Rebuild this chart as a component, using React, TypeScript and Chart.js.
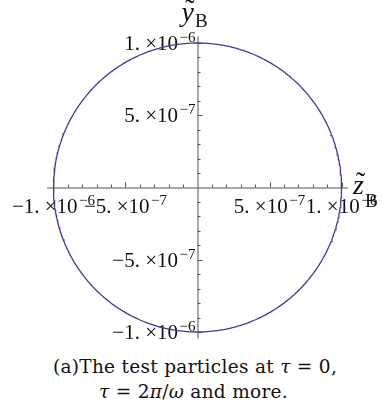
import React, { useEffect, useRef } from "react";
import { Chart, registerables } from "chart.js";

Chart.register(...registerables);

// Orbit of the test particles in the (z̃_B, ỹ_B) plane
const ORBIT_RADIUS = 1e-6;
const ORBIT_SAMPLES = 360;
const AXIS_LIMIT = 1.045e-6;

// Labelled ticks, shown as mantissa × 10^exponent
const MAJOR_TICKS = [-1e-6, -5e-7, 5e-7, 1e-6];
const TICK_MANTISSAS = ["\u22121.", "\u22125.", "5.", "1."];
const TICK_EXPONENTS = ["\u22126", "\u22127", "\u22127", "\u22126"];
const MINOR_STEP = 1e-7;

const CAPTION_LINES = [
  ["(a)The test particles at ", "τ", " = 0,"],
  ["", "τ", " = 2", "π", "/", "ω", " and more."],
];

const AXIS_COLOR = "#555555";
const CURVE_COLOR = "#3d3d99";
const SERIF = "'Liberation Serif', 'Times New Roman', serif";
const CAPTION_FONT = "'DejaVu Serif', serif";
const LABEL_SIZE = 21;
const SUP_SIZE = 15;

function orbitPoints() {
  const pts: { x: number; y: number }[] = [];
  for (let i = 0; i <= ORBIT_SAMPLES; i++) {
    const t = (2 * Math.PI * i) / ORBIT_SAMPLES;
    pts.push({ x: ORBIT_RADIUS * Math.cos(t), y: ORBIT_RADIUS * Math.sin(t) });
  }
  return pts;
}

const MANT_SUFFIX = " ×10";

function sciWidth(ctx: CanvasRenderingContext2D, mant: string, exp: string) {
  ctx.font = `${LABEL_SIZE}px ${SERIF}`;
  const w1 = ctx.measureText(mant + MANT_SUFFIX).width + 1.5;
  ctx.font = `${SUP_SIZE}px ${SERIF}`;
  const w2 = ctx.measureText(exp).width;
  return { w1, w2 };
}

function drawSci(
  ctx: CanvasRenderingContext2D,
  mant: string,
  exp: string,
  x: number,
  baseline: number,
  align: "center" | "right"
) {
  const { w1, w2 } = sciWidth(ctx, mant, exp);
  const total = w1 + w2;
  const start = align === "center" ? x - total / 2 : x - total;
  ctx.textAlign = "left";
  ctx.textBaseline = "alphabetic";
  ctx.fillStyle = "#111";
  ctx.font = `${LABEL_SIZE}px ${SERIF}`;
  ctx.fillText(mant + MANT_SUFFIX, start, baseline);
  ctx.font = `${SUP_SIZE}px ${SERIF}`;
  ctx.fillText(exp, start + w1, baseline - 8);
}

function drawTildeLetter(
  ctx: CanvasRenderingContext2D,
  letter: string,
  sub: string,
  x: number,
  baseline: number,
  size: number,
  subSize: number,
  subDrop: number
) {
  ctx.textAlign = "left";
  ctx.textBaseline = "alphabetic";
  ctx.fillStyle = "#111";
  ctx.font = `italic ${size}px ${SERIF}`;
  ctx.fillText(letter, x, baseline);
  const lw = ctx.measureText(letter).width;
  ctx.font = `${size}px ${SERIF}`;
  const tw = ctx.measureText("\u02dc").width;
  ctx.fillText("\u02dc", x + lw / 2 - tw / 2 + size * 0.08, baseline - size * 0.1);
  ctx.font = `${subSize}px ${SERIF}`;
  ctx.fillText(sub, x + lw + 1, baseline + subDrop);
}

const axesPlugin = {
  id: "crossedAxes",
  beforeDatasetsDraw(chart: Chart) {
    const { ctx } = chart;
    const xs = chart.scales.x;
    const ys = chart.scales.y;
    const x0 = xs.getPixelForValue(0);
    const y0 = ys.getPixelForValue(0);
    ctx.save();
    ctx.strokeStyle = AXIS_COLOR;
    ctx.lineWidth = 1;

    // axis lines
    ctx.beginPath();
    ctx.moveTo(xs.getPixelForValue(-AXIS_LIMIT), y0 + 0.5);
    ctx.lineTo(xs.getPixelForValue(AXIS_LIMIT), y0 + 0.5);
    ctx.moveTo(x0 + 0.5, ys.getPixelForValue(AXIS_LIMIT));
    ctx.lineTo(x0 + 0.5, ys.getPixelForValue(-AXIS_LIMIT));
    ctx.stroke();

    // tick marks: y ticks point right, x ticks point up
    ctx.beginPath();
    for (let k = -10; k <= 10; k++) {
      if (k === 0) continue;
      const v = k * MINOR_STEP;
      const len = k % 5 === 0 ? 5 : 3;
      const px = Math.round(xs.getPixelForValue(v)) + 0.5;
      ctx.moveTo(px, y0);
      ctx.lineTo(px, y0 - len);
      const py = Math.round(ys.getPixelForValue(v)) + 0.5;
      ctx.moveTo(x0, py);
      ctx.lineTo(x0 + len, py);
    }
    ctx.stroke();

    // tick labels
    MAJOR_TICKS.forEach((v, i) => {
      drawSci(ctx, TICK_MANTISSAS[i], TICK_EXPONENTS[i], xs.getPixelForValue(v), y0 + 25, "center");
      drawSci(ctx, TICK_MANTISSAS[i], TICK_EXPONENTS[i], x0 - 2, ys.getPixelForValue(v) + 7, "right");
    });

    // axis titles
    drawTildeLetter(ctx, "y", "B", x0 - 16, ys.getPixelForValue(AXIS_LIMIT) - 16, 28, 19, 6);
    drawTildeLetter(ctx, "z", "B", xs.getPixelForValue(AXIS_LIMIT) + 5, y0 + 6, 28, 19, 13);
    ctx.restore();
  },
};

export default function App() {
  const canvasRef = useRef<HTMLCanvasElement | null>(null);

  useEffect(() => {
    const canvas = canvasRef.current;
    if (!canvas) return;
    const chart = new Chart(canvas, {
      type: "scatter",
      data: {
        datasets: [
          {
            data: orbitPoints(),
            showLine: true,
            borderColor: CURVE_COLOR,
            borderWidth: 1.3,
            pointRadius: 0,
            tension: 0,
          },
        ],
      },
      options: {
        responsive: false,
        animation: false,
        events: [],
        layout: { padding: { left: 47, right: 39, top: 36.5, bottom: 11.5 } },
        plugins: { legend: { display: false }, tooltip: { enabled: false } },
        scales: {
          x: { type: "linear", min: -AXIS_LIMIT, max: AXIS_LIMIT, display: false },
          y: { type: "linear", min: -AXIS_LIMIT, max: AXIS_LIMIT, display: false },
        },
      },
      plugins: [axesPlugin],
    });
    return () => chart.destroy();
  }, []);

  const mathStyle: React.CSSProperties = { fontStyle: "italic" };

  return (
    <div style={{ position: "absolute", left: 0, top: 0, width: 387, height: 413, background: "#fff" }}>
      <canvas ref={canvasRef} width={387} height={350} style={{ display: "block", width: 387, height: 350 }} />
      <div
        style={{
          position: "absolute",
          left: 0,
          top: 354,
          width: 387,
          textAlign: "center",
          fontFamily: CAPTION_FONT,
          fontSize: 18.5,
          letterSpacing: "0.3px",
          lineHeight: "25px",
          color: "#111",
        }}
      >
        {CAPTION_LINES.map((parts, li) => (
          <div key={li} style={{ paddingLeft: li === 0 ? 3 : 0 }}>
            {parts.map((p, pi) =>
              p === "τ" || p === "π" || p === "ω" ? (
                <span key={pi} style={mathStyle}>{p}</span>
              ) : (
                <span key={pi} style={{ whiteSpace: "pre" }}>{p}</span>
              )
            )}
          </div>
        ))}
      </div>
    </div>
  );
}
